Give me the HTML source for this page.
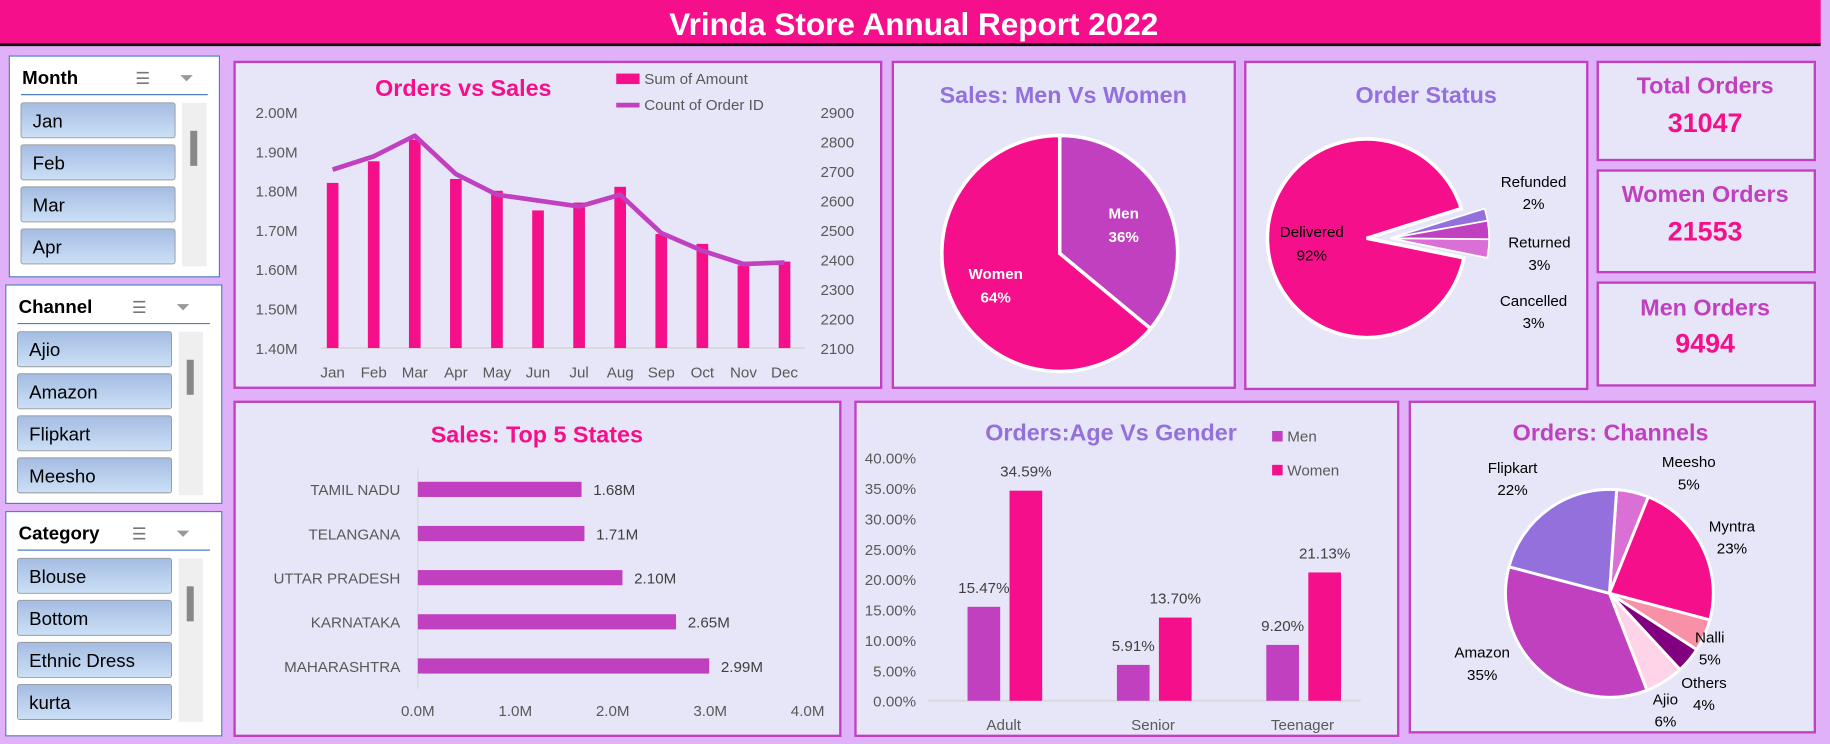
<!DOCTYPE html>
<html><head><meta charset="utf-8"><style>
html,body{margin:0;padding:0;width:1830px;height:744px;overflow:hidden;background:#E0B0F8}
svg{display:block}
text{font-family:"Liberation Sans",sans-serif}
</style></head><body>
<svg id="s" width="1830" height="744" viewBox="0 0 1568 637" preserveAspectRatio="none" xmlns="http://www.w3.org/2000/svg">
<rect x="0" y="0" width="1568" height="637" fill="#E0B0F8"/>
<g>
<rect x="0" y="0" width="1560" height="38" fill="#F50F8A"/>
<rect x="0" y="37" width="1560" height="2.5" fill="#111"/>
<text x="783" y="30" text-anchor="middle" fill="#fff" font-size="27" font-weight="bold">Vrinda Store Annual Report 2022</text>
</g>
<g id="slicers"></g>
<g>
<rect x="201" y="53" width="554" height="279" fill="#E6E6F8" stroke="#C040C0" stroke-width="2"/>
<rect x="765" y="53" width="293" height="279" fill="#E6E6F8" stroke="#C040C0" stroke-width="2"/>
<rect x="1067" y="53" width="293" height="280" fill="#E6E6F8" stroke="#C040C0" stroke-width="2"/>
<rect x="1369" y="53" width="186" height="84" fill="#E6E6F8" stroke="#C040C0" stroke-width="2"/>
<rect x="1369" y="146" width="186" height="87" fill="#E6E6F8" stroke="#C040C0" stroke-width="2"/>
<rect x="1369" y="242" width="186" height="88" fill="#E6E6F8" stroke="#C040C0" stroke-width="2"/>
<rect x="201" y="344" width="519" height="286" fill="#E6E6F8" stroke="#C040C0" stroke-width="2"/>
<rect x="733" y="344" width="465" height="286" fill="#E6E6F8" stroke="#C040C0" stroke-width="2"/>
<rect x="1208" y="344" width="347" height="283" fill="#E6E6F8" stroke="#C040C0" stroke-width="2"/>
</g>
<g font-weight="bold" text-anchor="middle">
<text x="1461" y="80" fill="#C040C0" font-size="20">Total Orders</text>
<text x="1461" y="113" fill="#F50F8A" font-size="23">31047</text>
<text x="1461" y="173" fill="#C040C0" font-size="20">Women Orders</text>
<text x="1461" y="206" fill="#F50F8A" font-size="23">21553</text>
<text x="1461" y="270" fill="#C040C0" font-size="20">Men Orders</text>
<text x="1461" y="302" fill="#F50F8A" font-size="23">9494</text>
</g>
<g id="c1"></g><g id="c2"></g><g id="c3"></g><g id="c4"></g><g id="c5"></g><g id="c6"></g>
</svg>
<script>
const NS="http://www.w3.org/2000/svg";
function mk(p,t,a,txt){const e=document.createElementNS(NS,t);for(const k in a)e.setAttribute(k,a[k]);if(txt!==undefined)e.textContent=txt;p.appendChild(e);return e;}

// ---------- data ----------
const months=["Jan","Feb","Mar","Apr","May","Jun","Jul","Aug","Sep","Oct","Nov","Dec"];
const salesM=[1.82,1.875,1.93,1.83,1.80,1.75,1.77,1.81,1.69,1.665,1.61,1.62];
const ordersCnt=[2705,2750,2820,2690,2620,2600,2580,2620,2490,2430,2385,2390];
const salesTicks=["1.40M","1.50M","1.60M","1.70M","1.80M","1.90M","2.00M"];
const orderTicks=["2100","2200","2300","2400","2500","2600","2700","2800","2900"];
const genderLabels=["Men","Women"];
const genderShare=[36,64];
const statusLabels=["Refunded","Returned","Cancelled","Delivered"];
const statusShare=[2,3,3,92];
const states=["TAMIL NADU","TELANGANA","UTTAR PRADESH","KARNATAKA","MAHARASHTRA"];
const stateSales=[1.68,1.71,2.10,2.65,2.99];
const stateTicks=["0.0M","1.0M","2.0M","3.0M","4.0M"];
const ageGroups=["Adult","Senior","Teenager"];
const menPct=[15.47,5.91,9.20];
const womenPct=[34.59,13.70,21.13];
const pctTicks=["0.00%","5.00%","10.00%","15.00%","20.00%","25.00%","30.00%","35.00%","40.00%"];
const channels=["Meesho","Myntra","Nalli","Others","Ajio","Amazon","Flipkart"];
const channelShare=[5,23,5,4,6,35,22];

// ---------- slicers ----------
const slicers=[
 {t:"Month",x:8,y:48,w:180,h:189,items:["Jan","Feb","Mar","Apr"]},
 {t:"Channel",x:5,y:244,w:185,h:187,items:["Ajio","Amazon","Flipkart","Meesho"]},
 {t:"Category",x:5,y:438,w:185,h:192,items:["Blouse","Bottom","Ethnic Dress","kurta"]}];
const sg=document.getElementById("slicers");
const defs=mk(sg,"defs",{});
const lg=mk(defs,"linearGradient",{id:"btn",x1:0,y1:0,x2:0,y2:1});
mk(lg,"stop",{offset:"0","stop-color":"#A4BCE2"});mk(lg,"stop",{offset:"1","stop-color":"#CCE0F6"});
slicers.forEach(s=>{
 const g=mk(sg,"g",{});
 
 
 mk(g,"rect",{x:s.x,y:s.y,width:s.w,height:s.h,fill:"#fff",stroke:"#4F81BD","stroke-width":1});
 mk(g,"text",{x:s.x+11,y:s.y+24,"font-size":16,"font-weight":"bold",fill:"#000"},s.t);
 mk(g,"text",{x:s.x+108,y:s.y+24,"font-size":14,fill:"#777"},"☰");
 mk(g,"text",{x:s.x+146,y:s.y+24,"font-size":15,fill:"#999"},"⏷");
 mk(g,"line",{x1:s.x+10,y1:s.y+33,x2:s.x+s.w-10,y2:s.y+33,stroke:"#4F81BD","stroke-width":1});
 const bw=132,bh=30;
 s.items.forEach((it,i)=>{
  const by=s.y+40+i*36;
  const r=mk(g,"rect",{x:s.x+10,y:by,width:bw,height:bh,rx:2,fill:"url(#btn)",stroke:"#999","stroke-width":0.8});
  
  
  mk(g,"text",{x:s.x+20,y:by+21,"font-size":16,fill:"#000"},it);
 });
 mk(g,"rect",{x:s.x+148,y:s.y+40,width:21,height:140,fill:"#EFEFEF"});
 mk(g,"rect",{x:s.x+155,y:s.y+64,width:6,height:30,fill:"#888"});
});

// ---------- chart 1: Orders vs Sales ----------
(function(){
 const g=document.getElementById("c1");
 
 
 const x0=275,step=35.2,top=96,bot=298;
 const yL=v=>bot-(v-1.4)/(0.6)*(bot-top);
 const yR=v=>bot-(v-2100)/800*(bot-top);
 const xc=i=>x0+10+i*step;
 mk(g,"text",{x:397,y:82,"text-anchor":"middle","font-size":20,"font-weight":"bold",fill:"#F50F8A"},"Orders vs Sales");
 salesTicks.forEach((t,i)=>{const e=mk(g,"text",{x:255,y:yL(1.4+i*0.1)+5,"text-anchor":"end","font-size":13,fill:"#595959"},t);});
 orderTicks.forEach((t,i)=>{const e=mk(g,"text",{x:703,y:yR(2100+i*100)+5,"font-size":13,fill:"#595959"},t);});
 mk(g,"line",{x1:x0,y1:bot,x2:690,y2:bot,stroke:"#D9D9D9","stroke-width":1.5});
 months.forEach((m,i)=>{
  const b=mk(g,"rect",{x:xc(i)-5,y:yL(salesM[i]),width:10,height:bot-yL(salesM[i]),fill:"#F50F8A"});
  
  
  mk(g,"text",{x:xc(i),y:323,"text-anchor":"middle","font-size":13,fill:"#595959"},m);
 });
 const pts=ordersCnt.map((v,i)=>xc(i)+","+yR(v)).join(" ");
 const pl=mk(g,"polyline",{points:pts,fill:"none",stroke:"#C040C0","stroke-width":4,"stroke-linejoin":"round"});
 
 
 const l1=mk(g,"rect",{x:528,y:63,width:20,height:9,fill:"#F50F8A"});
 
 
 mk(g,"text",{x:552,y:72,"font-size":13,fill:"#595959"},"Sum of Amount");
 const l2=mk(g,"line",{x1:528,y1:90,x2:548,y2:90,stroke:"#C040C0","stroke-width":4});
 
 
 mk(g,"text",{x:552,y:94,"font-size":13,fill:"#595959"},"Count of Order ID");
})();

function arc(cx,cy,r,a0,a1){ // degrees clockwise from north
 const p=a=>[cx+r*Math.sin(a*Math.PI/180),cy-r*Math.cos(a*Math.PI/180)];
 const [x0,y0]=p(a0),[x1,y1]=p(a1);
 return `M${cx},${cy} L${x0},${y0} A${r},${r} 0 ${a1-a0>180?1:0} 1 ${x1},${y1} Z`;
}

// ---------- chart 2: Men vs Women ----------
(function(){
 const g=document.getElementById("c2");
 
 
 mk(g,"text",{x:911,y:88,"text-anchor":"middle","font-size":20,"font-weight":"bold",fill:"#9370DB"},"Sales: Men Vs Women");
 const cx=908,cy=217,r=101,cols=["#C040C0","#F50F8A"];
 let a=0;const tot=genderShare.reduce((s,v)=>s+v,0);
 genderShare.forEach((v,i)=>{
  const da=v/tot*360;
  const p=mk(g,"path",{d:arc(cx,cy,r,a,a+da),fill:cols[i],stroke:"#fff","stroke-width":3});
  
  
  const m=(a+da/2)*Math.PI/180,lr=r*0.6;
  const lx=cx+lr*Math.sin(m),ly=cy-lr*Math.cos(m);
  mk(g,"text",{x:lx,y:ly-4,"text-anchor":"middle","font-size":13,"font-weight":"bold",fill:"#fff"},genderLabels[i]);
  mk(g,"text",{x:lx,y:ly+16,"text-anchor":"middle","font-size":13,"font-weight":"bold",fill:"#fff"},v+"%");
  a+=da;
 });
})();

// ---------- chart 3: Order Status ----------
(function(){
 const g=document.getElementById("c3");
 
 
 mk(g,"text",{x:1222,y:88,"text-anchor":"middle","font-size":20,"font-weight":"bold",fill:"#9370DB"},"Order Status");
 const cx=1171,cy=204,r=85,cols=["#9370DB","#C040C0","#DA70D6","#F50F8A"];
 const tot=statusShare.reduce((s,v)=>s+v,0);
 const small=statusShare.slice(0,3).reduce((s,v)=>s+v,0)/tot*360;
 let a=90-small/2-3;
 const labY=[160,212,262];
 statusShare.forEach((v,i)=>{
  const da=v/tot*360;
  const off=i<3?20:0;
  const p=mk(g,"path",{d:arc(cx+off,cy,r,a,a+da),fill:cols[i],stroke:"#fff","stroke-width":i<3?1.5:3});
  
  
  if(i<3){
   mk(g,"text",{x:1314+(i==1?5:0),y:labY[i],"text-anchor":"middle","font-size":13,fill:"#000"},statusLabels[i]);
   mk(g,"text",{x:1314+(i==1?5:0),y:labY[i]+19,"text-anchor":"middle","font-size":13,fill:"#000"},v+"%");
  } else {
   mk(g,"text",{x:1124,y:203,"text-anchor":"middle","font-size":13,fill:"#000"},statusLabels[i]);
   mk(g,"text",{x:1124,y:223,"text-anchor":"middle","font-size":13,fill:"#000"},v+"%");
  }
  a+=da;
 });
})();

// ---------- chart 4: Top 5 States ----------
(function(){
 const g=document.getElementById("c4");
 
 
 mk(g,"text",{x:460,y:379,"text-anchor":"middle","font-size":20,"font-weight":"bold",fill:"#F50F8A"},"Sales: Top 5 States");
 const x0=358,pxM=83.5,y0=419,step=37.8;
 const xs=v=>x0+v*pxM;
 mk(g,"line",{x1:x0,y1:400,x2:x0,y2:590,stroke:"#D9D9D9","stroke-width":1});
 stateTicks.forEach((t,i)=>mk(g,"text",{x:xs(i),y:613,"text-anchor":"middle","font-size":13,fill:"#595959"},t));
 states.forEach((s,i)=>{
  const y=y0+i*step;
  const b=mk(g,"rect",{x:x0,y:y-6.5,width:xs(stateSales[i])-x0,height:13,fill:"#C040C0"});
  
  
  mk(g,"text",{x:343,y:y+5,"text-anchor":"end","font-size":13,fill:"#595959"},s);
  mk(g,"text",{x:xs(stateSales[i])+10,y:y+5,"font-size":13,fill:"#404040"},stateSales[i].toFixed(2)+"M");
 });
})();

// ---------- chart 5: Age vs Gender ----------
(function(){
 const g=document.getElementById("c5");
 
 
 mk(g,"text",{x:952,y:377,"text-anchor":"middle","font-size":20,"font-weight":"bold",fill:"#9370DB"},"Orders:Age Vs Gender");
 const top=392,bot=600,yv=v=>bot-v/40*(bot-top);
 pctTicks.forEach((t,i)=>mk(g,"text",{x:785,y:yv(i*5)+5,"text-anchor":"end","font-size":13,fill:"#595959"},t));
 mk(g,"line",{x1:795,y1:bot,x2:1166,y2:bot,stroke:"#D9D9D9","stroke-width":1.5});
 const cx=i=>861+i*128;
 ageGroups.forEach((a,i)=>{
  const b1=mk(g,"rect",{x:cx(i)-32,y:yv(menPct[i]),width:28,height:bot-yv(menPct[i]),fill:"#C040C0"});
  
  
  const b2=mk(g,"rect",{x:cx(i)+4,y:yv(womenPct[i]),width:28,height:bot-yv(womenPct[i]),fill:"#F50F8A"});
  
  
  mk(g,"text",{x:cx(i)-18,y:yv(menPct[i])-12,"text-anchor":"middle","font-size":13,fill:"#404040"},menPct[i].toFixed(2)+"%");
  mk(g,"text",{x:cx(i)+18,y:yv(womenPct[i])-12,"text-anchor":"middle","font-size":13,fill:"#404040"},womenPct[i].toFixed(2)+"%");
  mk(g,"text",{x:cx(i)-1,y:625,"text-anchor":"middle","font-size":13,fill:"#595959"},a);
 });
 const lm=mk(g,"rect",{x:1090,y:369,width:9,height:9,fill:"#C040C0"});
 
 
 mk(g,"text",{x:1103,y:378,"font-size":13,fill:"#595959"},"Men");
 const lw=mk(g,"rect",{x:1090,y:398,width:9,height:9,fill:"#F50F8A"});
 
 
 mk(g,"text",{x:1103,y:407,"font-size":13,fill:"#595959"},"Women");
})();

// ---------- chart 6: Channels ----------
(function(){
 const g=document.getElementById("c6");
 
 
 mk(g,"text",{x:1380,y:377,"text-anchor":"middle","font-size":20,"font-weight":"bold",fill:"#C040C0"},"Orders: Channels");
 const cx=1379,cy=508,r=89;
 const cols=["#DA70D6","#F50F8A","#F890A8","#800080","#FFD4E8","#C040C0","#9370DB"];
 const lab=[[1447,400],[1484,455],[1465,550],[1460,589],[1427,603],[1270,563],[1296,405]];
 const tot=channelShare.reduce((s,v)=>s+v,0);
 let a=4;
 channelShare.forEach((v,i)=>{
  const da=v/tot*360;
  const p=mk(g,"path",{d:arc(cx,cy,r,a,a+da),fill:cols[i],stroke:"#fff","stroke-width":2.5});
  
  
  mk(g,"text",{x:lab[i][0],y:lab[i][1],"text-anchor":"middle","font-size":13,fill:"#000"},channels[i]);
  mk(g,"text",{x:lab[i][0],y:lab[i][1]+19,"text-anchor":"middle","font-size":13,fill:"#000"},v+"%");
  a+=da;
 });
})();
</script>
</body></html>
